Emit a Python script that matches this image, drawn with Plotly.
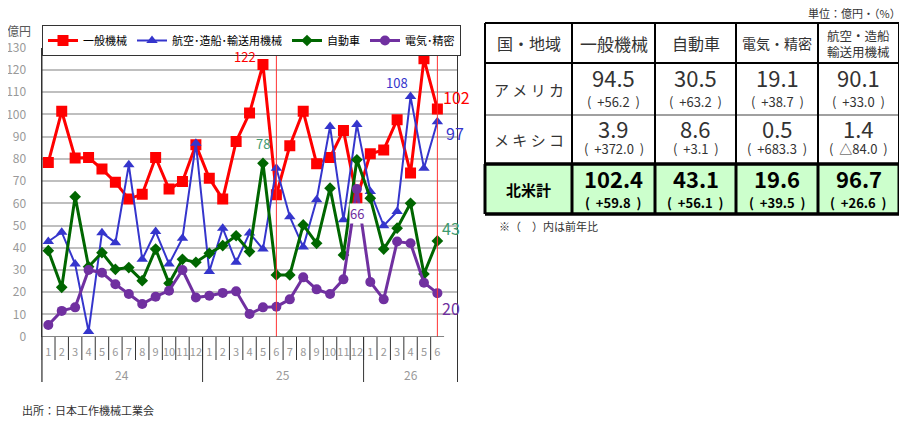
import plotly.graph_objects as go

# 月次データ（億円）
months = [str(m) for m in range(1, 13)] * 2 + [str(m) for m in range(1, 7)]
year_labels = ["24", "25", "26"]
year_counts = [12, 12, 6]

general = [78.4, 101.4, 80.4, 80.6, 75.4, 69.5, 61.9, 64.1, 80.6, 66.4, 69.8, 86.3,
           71.3, 61.9, 87.8, 100.6, 122.4, 63.8, 85.9, 101.4, 77.8, 80.6, 92.8, 62.3,
           82.3, 84.0, 97.6, 73.6, 125.0, 102.4]
aero = [42.8, 47.0, 32.7, 2.3, 46.8, 42.3, 77.3, 34.8, 47.3, 32.7, 44.3, 87.0,
        29.3, 48.8, 33.5, 46.6, 39.4, 75.8, 54.0, 40.3, 61.6, 94.6, 52.6, 95.4,
        65.3, 49.9, 56.3, 108.0, 75.8, 96.7]
auto = [38.7, 22.2, 63.0, 31.5, 37.8, 30.3, 31.1, 25.2, 39.4, 24.0, 34.8, 33.5,
        37.5, 41.0, 45.4, 38.3, 78.0, 27.8, 27.8, 50.3, 42.0, 66.8, 36.8, 79.6,
        62.3, 39.4, 48.8, 60.0, 28.2, 43.1]
elec = [5.3, 11.6, 13.2, 30.0, 28.8, 23.6, 19.2, 14.7, 18.0, 20.7, 30.0, 17.6,
        18.4, 19.7, 20.4, 10.2, 13.2, 13.5, 16.8, 26.7, 21.3, 19.2, 25.8, 66.4,
        24.6, 16.8, 42.8, 42.0, 24.3, 19.6]

# 表データ
table_head = ["国・地域", "一般機械", "自動車", "電気・精密", "航空・造船<br>輸送用機械"]
regions = ["ア メ リ カ", "メ キ シ コ", "北米計"]
usa_vals = ["94.5", "30.5", "19.1", "90.1"]
usa_yoy = ["+56.2", "+63.2", "+38.7", "+33.0"]
mex_vals = ["3.9", "8.6", "0.5", "1.4"]
mex_yoy = ["+372.0", "+3.1", "+683.3", "△84.0"]
na_vals = ["102.4", "43.1", "19.6", "96.7"]
na_yoy = ["+59.8", "+56.1", "+39.5", "+26.6"]

W, H = 907, 422
OX, OY = 8, 8   # ページ余白の分だけずらす
FONT = "Noto Sans CJK JP"


def px(x):
    return (x - OX) / W


def py(y):
    return 1 - (y - OY) / H


def note(x, y, text, size, color="#333", xa="center", ya="middle", **kw):
    return dict(x=px(x), y=py(y), xref="paper", yref="paper", text=text, showarrow=False,
                xanchor=xa, yanchor=ya, font=dict(size=size, color=color, family=FONT), **kw)


idx = list(range(len(months)))
series = [
    ("一般機械", general, "#ff0000", "square", 11, 3),
    ("航空･造船･輸送用機械", aero, "#3535cc", "triangle-up", 10, 2),
    ("自動車", auto, "#006600", "diamond", 9, 3),
    ("電気･精密", elec, "#7030a0", "circle", 10, 3),
]

fig = go.Figure()
for name, vals, color, sym, size, width in series:
    fig.add_trace(go.Scatter(x=idx, y=vals, name=name, mode="lines+markers",
                             line=dict(color=color, width=width),
                             marker=dict(symbol=sym, size=size, color=color)))

shapes = []
# 6月の赤線
for i in (17, 29):
    shapes.append(dict(type="line", xref="x", yref="y", x0=i, x1=i, y0=0, y1=130,
                       line=dict(color="#ff3333", width=1)))
# X軸の基線と区切り
shapes.append(dict(type="line", xref="x", yref="y", x0=-0.5, x1=len(months) - 0.5,
                   y0=0, y1=0, line=dict(color="#333", width=1)))
for i in range(len(months)):
    shapes.append(dict(type="line", xref="x", yref="paper", x0=i - 0.5, x1=i - 0.5,
                       y0=py(337), y1=py(360), line=dict(color="#333", width=1)))
start = 0
year_pos = []
for lab, cnt in zip(year_labels, year_counts):
    shapes.append(dict(type="line", xref="x", yref="paper", x0=start - 0.5, x1=start - 0.5,
                       y0=py(337), y1=py(382), line=dict(color="#333", width=1)))
    end = start + cnt
    right = end - 0.5 if end < len(months) else len(months) + 0.5
    year_pos.append((start - 0.5 + right) / 2)
    start = end
# 外枠
for x0, y0, x1, y1 in [(42, 48, 457.5, 48), (457.5, 48, 457.5, 382), (42, 48, 42, 382)]:
    shapes.append(dict(type="line", xref="paper", yref="paper", x0=px(x0), x1=px(x1),
                       y0=py(y0), y1=py(y1), line=dict(color="#333", width=1)))

ann = []
for lab, xp in zip(year_labels, year_pos):
    ann.append(dict(x=xp, y=py(374), xref="x", yref="paper", text=lab, showarrow=False,
                    xanchor="center", yanchor="middle",
                    font=dict(size=12, color="#999", family=FONT)))


# データラベル
def label(vals, i, color, size, xanchor, yanchor, xs, ys, bg=None):
    d = dict(x=i, y=vals[i], xref="x", yref="y", text=f"{vals[i]:.0f}", showarrow=False,
             xanchor=xanchor, yanchor=yanchor, xshift=xs, yshift=ys,
             font=dict(size=size, color=color, family=FONT))
    if bg:
        d["bgcolor"] = bg
        d["borderpad"] = 0
    ann.append(d)


label(general, 16, "#ff0000", 13, "right", "bottom", -5, -3)
label(auto, 16, "#3d9a6e", 13, "center", "bottom", 0, 8)
label(aero, 27, "#3535cc", 13, "right", "bottom", -1, 3)
label(elec, 23, "#7030a0", 13, "center", "top", 0, -14, bg="white")
last = len(months) - 1
label(general, last, "#ff0000", 16, "left", "middle", 4, 12)
label(aero, last, "#3535cc", 16, "left", "middle", 7, -11)
label(auto, last, "#3d9a6e", 16, "left", "middle", 3, 13)
label(elec, last, "#7030a0", 16, "left", "middle", 3, -15)

ann.append(note(5, 31, "億円", 12, "#595959", xa="left"))
ann.append(note(20, 410, "出所：日本工作機械工業会", 11, xa="left"))

# 表
cx = [485, 572, 655, 736, 818, 899]
ry = [23, 63, 115, 164, 214]
shapes.append(dict(type="rect", xref="paper", yref="paper", x0=px(cx[0]), x1=px(cx[-1]),
                   y0=py(ry[3]), y1=py(ry[4]), fillcolor="#ccffcc", line=dict(width=0), layer="below"))
for j, y in enumerate(ry):
    col = "#a0a0a0" if j == 2 else "black"
    w = 3.5 if j >= 3 else 2
    shapes.append(dict(type="line", xref="paper", yref="paper", x0=px(cx[0]), x1=px(cx[-1]),
                       y0=py(y), y1=py(y), line=dict(color=col, width=w)))
for k, x in enumerate(cx):
    shapes.append(dict(type="line", xref="paper", yref="paper", x0=px(x), x1=px(x),
                       y0=py(ry[0]), y1=py(ry[3]), line=dict(color="black", width=2)))
    shapes.append(dict(type="line", xref="paper", yref="paper", x0=px(x), x1=px(x),
                       y0=py(ry[3]), y1=py(ry[4]), line=dict(color="black", width=3)))

centers = [(cx[k] + cx[k + 1]) / 2 for k in range(len(cx) - 1)]
head_sizes = [16, 17, 16, 14, 12.5]
for k, t in enumerate(table_head):
    ann.append(note(centers[k], 43, t, head_sizes[k]))

# 行ごとに (値, 前年比, 太字, 値の位置, 前年比の位置)
rows = [(usa_vals, usa_yoy, False, 14, 38),
        (mex_vals, mex_yoy, False, 12.5, 34),
        (na_vals, na_yoy, True, 13.5, 38)]
for r, (vals, yoy, bold, dv, dp) in enumerate(rows):
    top, bot = ry[r + 1], ry[r + 2]
    color = "black" if bold else "#333"
    lab = f"<b>{regions[r]}</b>" if bold else regions[r]
    ann.append(note(centers[0], (top + bot) / 2, lab, 15, color))
    for k in range(4):
        v = f"<b>{vals[k]}</b>" if bold else vals[k]
        p = f"(  {yoy[k]}  )"
        p = f"<b>{p}</b>" if bold else p
        ann.append(note(centers[k + 1], top + dv, v, 22, color))
        ann.append(note(centers[k + 1], top + dp, p, 13, color))

ann.append(note(903, 13, "単位：億円・（%）", 11, xa="right"))
ann.append(note(497, 226, "※（　）内は前年比", 11, xa="left"))

fig.update_layout(
    width=W, height=H, margin=dict(l=0, r=0, t=0, b=0, pad=0, autoexpand=False),
    plot_bgcolor="white", paper_bgcolor="white",
    font=dict(family=FONT, size=12, color="#333"),
    showlegend=True,
    legend=dict(orientation="h", x=px(42), y=py(25), xanchor="left", yanchor="top",
                bordercolor="#333", borderwidth=1, bgcolor="white", itemwidth=30,
                font=dict(size=11, color="black", family=FONT)),
    xaxis=dict(domain=[px(41.6), px(457.5)], range=[-0.5, len(months) + 0.5],
               tickmode="array", tickvals=idx, ticktext=months, showgrid=False,
               zeroline=False, showline=False, ticks="", tickangle=0, automargin=False,
               tickfont=dict(size=11, color="#999", family=FONT), ticklabelstandoff=7),
    yaxis=dict(domain=[py(336.7), py(47.7)], range=[0, 130], dtick=10,
               showgrid=True, gridcolor="#bfbfbf", gridwidth=1.5, zeroline=False,
               showline=True, linecolor="#333", linewidth=1, ticks="", automargin=False,
               tickfont=dict(size=12, color="#999", family=FONT), ticklabelstandoff=12),
    shapes=shapes, annotations=ann,
)

fig.write_html("out.html")
